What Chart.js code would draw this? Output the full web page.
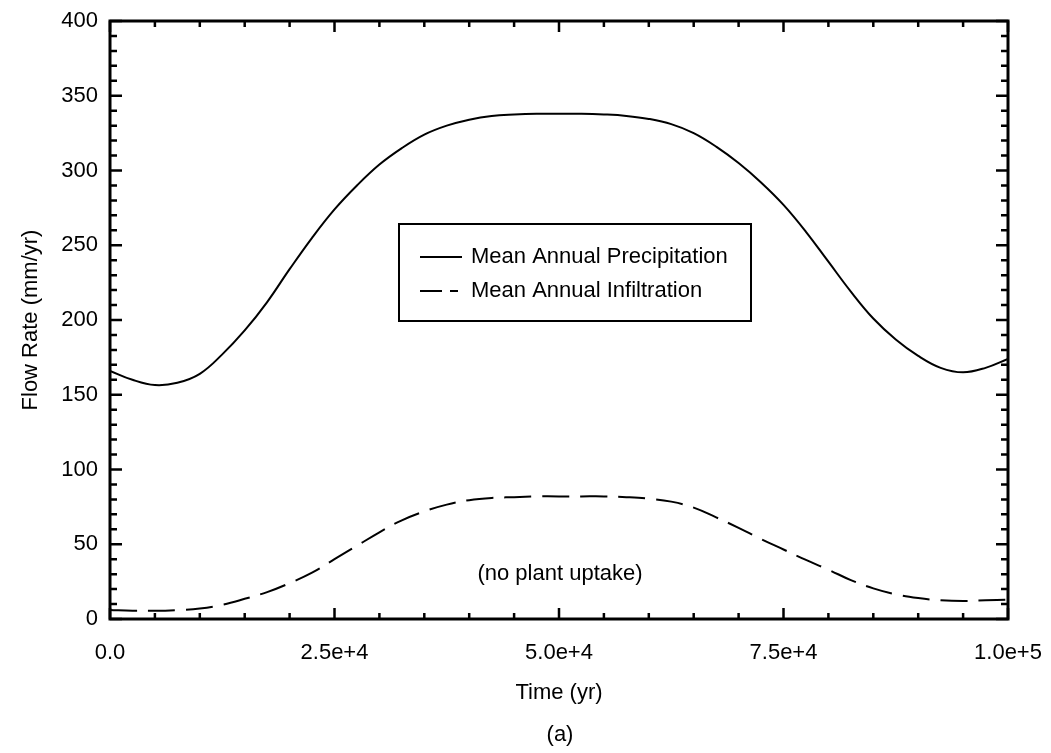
<!DOCTYPE html>
<html>
<head>
<meta charset="utf-8">
<script src="https://cdn.jsdelivr.net/npm/chart.js@4/dist/chart.umd.min.js"></script>
<style>
  html, body { margin: 0; padding: 0; background: #fff; }
  #wrap { width: 1051px; height: 753px; }
</style>
</head>
<body>
<div id="wrap"><canvas id="flowChart"></canvas></div>
<script>
// values
const years = [0, 2500, 5000, 7500, 10000, 12500, 15000, 17500, 20000, 22500, 25000,
  27500, 30000, 32500, 35000, 37500, 40000, 42500, 45000, 47500, 50000,
  52500, 55000, 57500, 60000, 62500, 65000, 67500, 70000, 72500, 75000,
  77500, 80000, 82500, 85000, 87500, 90000, 92500, 95000, 97500, 100000];
const precipitation = [166, 160, 156.5, 158, 164, 177, 193, 212, 234, 255, 274,
  290, 304, 315, 324, 330, 334, 336.5, 337.5, 338, 338,
  338, 337.5, 336.5, 334.5, 331, 325, 316, 305, 292, 277,
  259, 239, 219, 201, 187, 176, 168, 165, 168, 174];
const infiltration = [6, 5.5, 5.5, 6, 7, 9.5, 13.5, 18, 24, 31, 40,
  49, 58, 66, 72, 76.5, 79.5, 81, 81.5, 82, 82,
  82, 82, 81.5, 80.5, 78.5, 74.5, 68, 61, 53.5, 46.5,
  39.5, 33, 26, 20.5, 16.5, 14, 12.5, 12, 12.5, 13];
const seriesLabels = ['Mean Annual Precipitation', 'Mean Annual Infiltration'];
const note = '(no plant uptake)';
const panel = '(a)';

const FONT = "'Liberation Sans', Arial, Helvetica, sans-serif";
const SIZE = 22;

function toPoints(ys) {
  return years.map((x, i) => ({ x: x, y: ys[i] }));
}

// frame, inward ticks, legend box and the extra labels
const framePlugin = {
  id: 'frame',
  afterDraw(chart) {
    const ctx = chart.ctx;
    const a = chart.chartArea;
    const xs = chart.scales.x;
    const ys = chart.scales.y;
    ctx.save();
    ctx.strokeStyle = '#000';
    ctx.lineWidth = 3;
    ctx.strokeRect(a.left, a.top, a.right - a.left, a.bottom - a.top);

    ctx.lineWidth = 2.5;
    for (let v = 0; v <= 100000; v += 5000) {
      const px = xs.getPixelForValue(v);
      const len = v % 25000 === 0 ? 11 : 6;
      ctx.beginPath();
      ctx.moveTo(px, a.bottom); ctx.lineTo(px, a.bottom - len);
      ctx.moveTo(px, a.top); ctx.lineTo(px, a.top + len);
      ctx.stroke();
    }
    for (let v = 0; v <= 400; v += 10) {
      const py = ys.getPixelForValue(v);
      const len = v % 50 === 0 ? 12 : 7;
      ctx.beginPath();
      ctx.moveTo(a.left, py); ctx.lineTo(a.left + len, py);
      ctx.moveTo(a.right, py); ctx.lineTo(a.right - len, py);
      ctx.stroke();
    }

    // legend
    const bx = 399, by = 224, bw = 352, bh = 97;
    ctx.lineWidth = 2;
    ctx.strokeRect(bx, by, bw, bh);
    ctx.font = SIZE + 'px ' + FONT;
    ctx.fillStyle = '#000';
    ctx.textBaseline = 'middle';
    ctx.textAlign = 'left';
    const rows = [257, 291];
    chart.data.datasets.forEach((ds, i) => {
      ctx.beginPath();
      ctx.setLineDash(i === 0 ? [] : [22, 8, 8, 100]);
      ctx.lineWidth = 2;
      ctx.moveTo(420, rows[i]); ctx.lineTo(462, rows[i]);
      ctx.stroke();
      ctx.setLineDash([]);
      ctx.fillText(ds.label, 471, rows[i]);
    });

    ctx.textAlign = 'center';
    ctx.fillText(note, 560, 574);
    ctx.fillText(panel, 560, 735);
    ctx.restore();
  }
};

new Chart(document.getElementById('flowChart'), {
  type: 'line',
  data: {
    datasets: [{
      label: seriesLabels[0],
      data: toPoints(precipitation),
      borderColor: '#000',
      borderWidth: 2,
      pointRadius: 0,
      tension: 0.4,
      fill: false
    }, {
      label: seriesLabels[1],
      data: toPoints(infiltration),
      borderColor: '#000',
      borderWidth: 2,
      borderDash: [27, 11],
      pointRadius: 0,
      tension: 0.4,
      fill: false
    }]
  },
  options: {
    responsive: true,
    maintainAspectRatio: false,
    animation: false,
    layout: { padding: { top: 21, right: 43, left: 0, bottom: 0 } },
    plugins: {
      legend: { display: false },
      tooltip: { enabled: false }
    },
    scales: {
      x: {
        type: 'linear',
        min: 0,
        max: 100000,
        grid: { display: false, drawTicks: false },
        border: { display: false },
        ticks: {
          stepSize: 25000,
          padding: 21,
          color: '#000',
          font: { family: FONT, size: SIZE },
          maxRotation: 0,
          callback: v => v === 0 ? '0.0' : Number(v).toExponential(1)
        },
        title: {
          display: true,
          text: 'Time (yr)',
          color: '#000',
          font: { family: FONT, size: SIZE },
          padding: { top: 0, bottom: 47 }
        },
        afterFit: s => { s.height = 134; s.paddingLeft = 0; s.paddingRight = 0; }
      },
      y: {
        min: 0,
        max: 400,
        grid: { display: false, drawTicks: false },
        border: { display: false },
        ticks: {
          stepSize: 50,
          padding: 12,
          color: '#000',
          font: { family: FONT, size: SIZE }
        },
        title: {
          display: true,
          text: 'Flow Rate (mm/yr)',
          color: '#000',
          font: { family: FONT, size: SIZE },
          padding: { top: 18, bottom: 0 }
        },
        afterFit: s => { s.width = 110; s.paddingTop = 0; s.paddingBottom = 0; }
      }
    }
  },
  plugins: [framePlugin]
});
</script>
</body>
</html>
